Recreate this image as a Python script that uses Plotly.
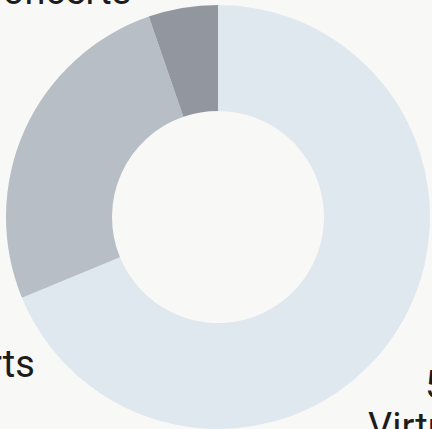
import plotly.graph_objects as go

# ---- data ----
categories = ["Virtual tours", "Live sports", "Concerts"]
values = [5200, 1960, 400]
value_labels = ["5,200", "1,960", "400"]
colors = ["#dfe8ee", "#b8bec6", "#91969f"]

W, H = 432, 429
M = dict(l=4, r=0, t=5, b=0)
FONT = "Roboto"
FS = 38


def px_to_paper(px, py):
    x = (px - M["l"]) / (W - M["l"] - M["r"])
    y = 1 - (py - M["t"]) / (H - M["t"] - M["b"])
    return x, y


fig = go.Figure(go.Pie(
    labels=categories,
    values=values,
    hole=0.5,
    sort=False,
    direction="clockwise",
    rotation=0,
    marker=dict(colors=colors, line=dict(width=0)),
    textinfo="none",
    hoverinfo="label+value+percent",
    showlegend=False,
))

# label layout (pixel centre x, baseline y of the category line)
label_pos = [(471, 440), (-58, 377), (54, 4)]
line_gap = 42
annotations = []
for cat, val, (cx, base) in zip(categories, value_labels, label_pos):
    for text, b in ((val, base - line_gap), (cat, base)):
        x, y = px_to_paper(cx, b - 0.342 * FS)
        annotations.append(dict(
            text=text, x=x, y=y, xref="paper", yref="paper",
            xanchor="center", yanchor="middle", showarrow=False,
            font=dict(family=FONT, size=FS, color="#1c1c1c"),
        ))

fig.update_layout(
    width=W, height=H,
    paper_bgcolor="#f8f8f6",
    plot_bgcolor="#f8f8f6",
    margin=M,
    annotations=annotations,
)
fig.write_html(
    "out.html",
    config={"displayModeBar": False},
    post_script="document.body.style.margin='0';document.body.style.background='#f8f8f6';",
)
